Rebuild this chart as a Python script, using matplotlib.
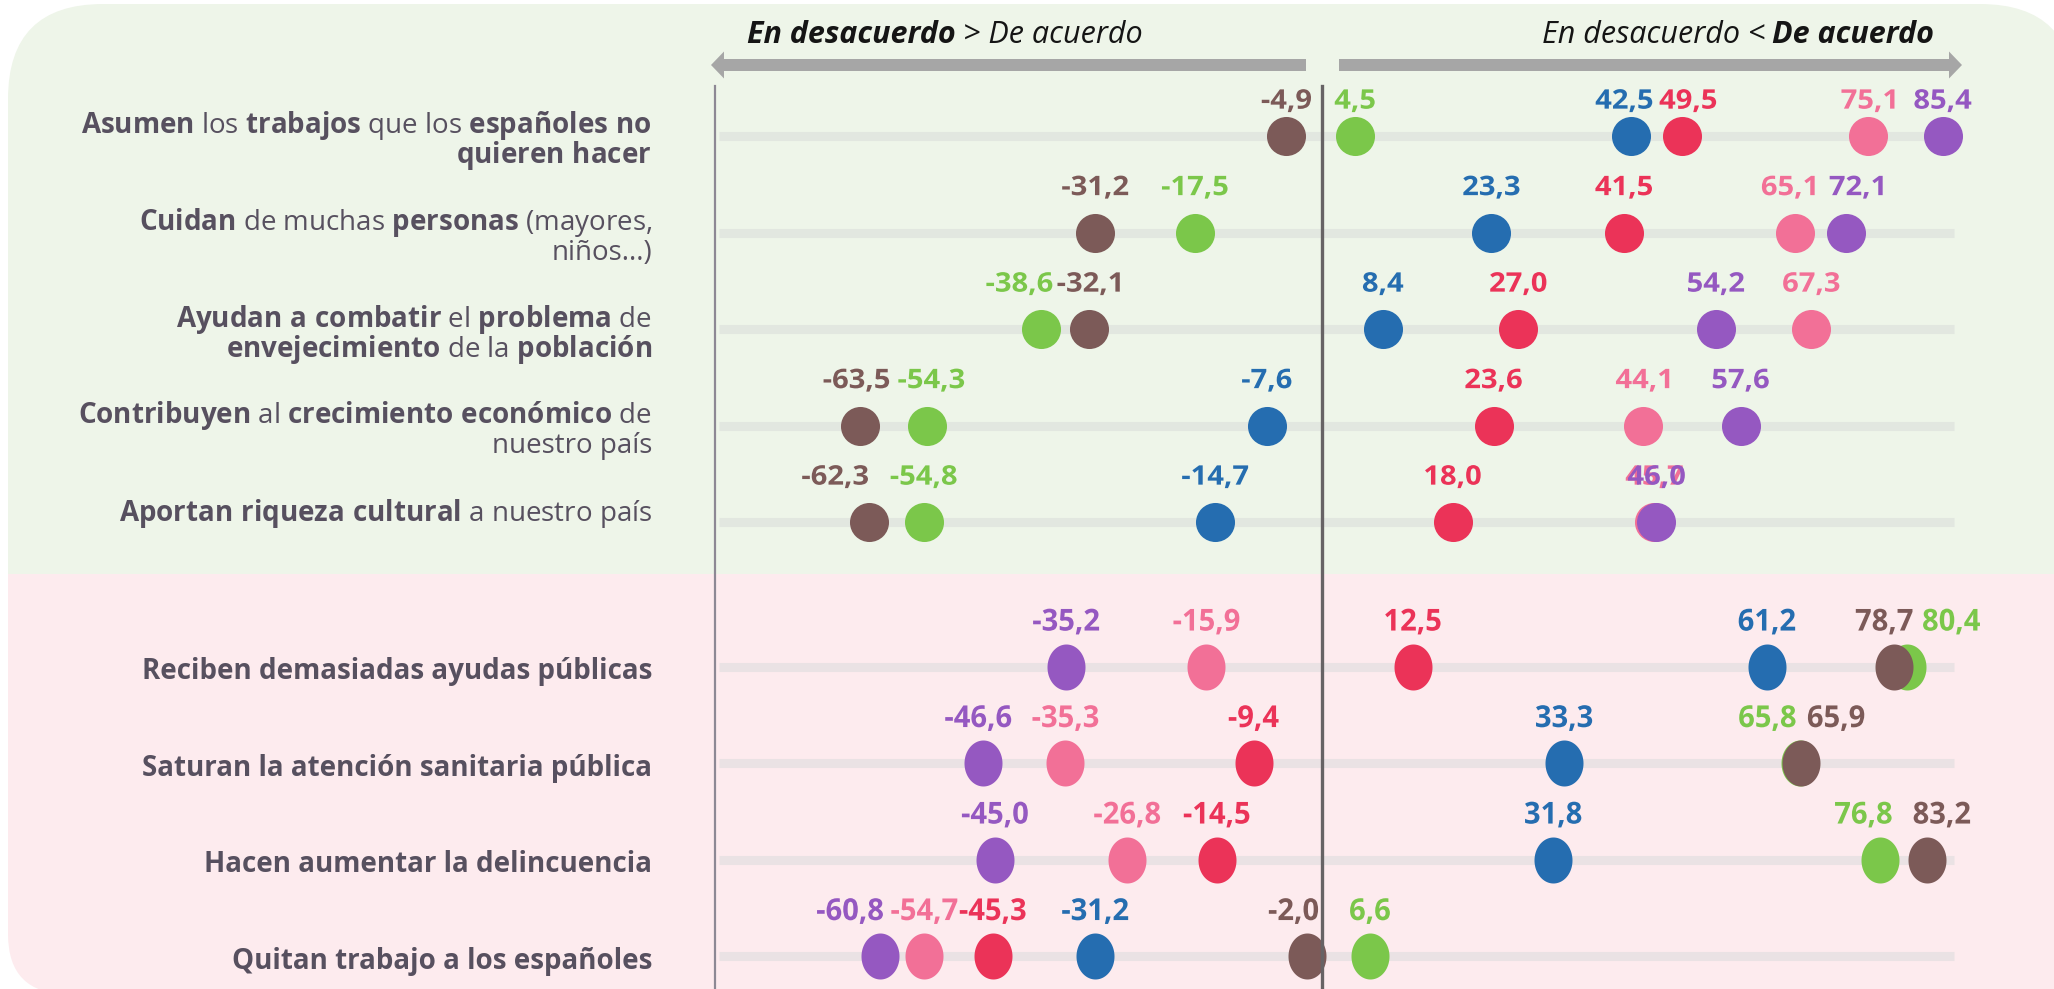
import numpy as np
import matplotlib
matplotlib.use('Agg')
import matplotlib.pyplot as plt
import matplotlib.transforms as mtransforms
from matplotlib.patches import FancyBboxPatch, Rectangle, FancyArrow, PathPatch
from matplotlib.textpath import TextPath
from matplotlib.font_manager import FontProperties

plt.rcParams['font.family'] = ['Open Sans', 'DejaVu Sans']
plt.rcParams['mathtext.fontset'] = 'custom'
plt.rcParams['mathtext.rm'] = 'Open Sans'
plt.rcParams['mathtext.bf'] = 'Open Sans:bold'
plt.rcParams['mathtext.it'] = 'Open Sans:italic'

# --- datos: una lista por serie, una entrada por afirmación ---
afirmaciones = [
    [[("Asumen", 1), (" los ", 0), ("trabajos", 1), (" que los ", 0), ("españoles no", 1)],
     [("quieren hacer", 1)]],
    [[("Cuidan", 1), (" de muchas ", 0), ("personas", 1), (" (mayores,", 0)],
     [("niños...)", 0)]],
    [[("Ayudan a combatir", 1), (" el ", 0), ("problema", 1), (" de", 0)],
     [("envejecimiento", 1), (" de la ", 0), ("población", 1)]],
    [[("Contribuyen", 1), (" al ", 0), ("crecimiento económico", 1), (" de", 0)],
     [("nuestro país", 0)]],
    [[("Aportan riqueza cultural", 1), (" a nuestro país", 0)]],
    [[("Reciben demasiadas ayudas públicas", 1)]],
    [[("Saturan la atención sanitaria pública", 1)]],
    [[("Hacen aumentar la delincuencia", 1)]],
    [[("Quitan trabajo a los españoles", 1)]],
]
grupo = [0, 0, 0, 0, 0, 1, 1, 1, 1]   # 0 = positivas, 1 = negativas

verde  = [4.5, -17.5, -38.6, -54.3, -54.8, 80.4, 65.8, 76.8, 6.6]
marron = [-4.9, -31.2, -32.1, -63.5, -62.3, 78.7, 65.9, 83.2, -2.0]
azul   = [42.5, 23.3, 8.4, -7.6, -14.7, 61.2, 33.3, 31.8, -31.2]
rojo   = [49.5, 41.5, 27.0, 23.6, 18.0, 12.5, -9.4, -14.5, -45.3]
rosa   = [75.1, 65.1, 67.3, 44.1, 45.7, -15.9, -35.3, -26.8, -54.7]
morado = [85.4, 72.1, 54.2, 57.6, 46.0, -35.2, -46.6, -45.0, -60.8]

series = {'verde': verde, 'marron': marron, 'azul': azul,
          'rojo': rojo, 'rosa': rosa, 'morado': morado}

# --- estilo ---
colores = {'verde': '#7BC74A', 'marron': '#7C5A58', 'azul': '#256DB0',
           'rojo': '#EB3358', 'rosa': '#F27097', 'morado': '#9558C1'}
TXT = '#57505F'
PX_X = 7.27          # px por punto porcentual
X0 = 1322            # px del cero
ROW_PX = 96.5
ROW0 = 136
# pequeños desplazamientos de etiquetas solapadas (px)
nudge = {(0, 'azul'): -7, (0, 'rojo'): 6, (1, 'rosa'): -7, (1, 'morado'): 10,
         (2, 'verde'): -22, (3, 'marron'): -4, (3, 'verde'): 4,
         (4, 'marron'): -34, (5, 'marron'): -10, (5, 'verde'): 45,
         (6, 'verde'): -33, (6, 'marron'): 35, (7, 'verde'): -17, (7, 'marron'): 15,
         (8, 'morado'): -30, (8, 'marron'): -14, (6, 'morado'): -5}

pos = [i + 0.5 * g for i, g in enumerate(grupo)]

fig = plt.figure(figsize=(20.54, 9.89), dpi=100)
bg = fig.add_axes([0, 0, 1, 1], zorder=0)
bg.set_xlim(0, 2054)
bg.set_ylim(989, 0)
bg.axis('off')
ax = fig.add_axes([0, 0, 1, 1], zorder=1)
ax.axis('off')
ax.set_xlim(-X0 / PX_X, (2054 - X0) / PX_X)
ax.set_ylim((989 - ROW0) / ROW_PX, -ROW0 / ROW_PX)

# fondos
bg.add_patch(FancyBboxPatch((8, 4), 2075 - 8, 700, boxstyle='round,pad=0,rounding_size=95',
                            fc='#EEF5E9', ec='none'))
bg.add_patch(FancyBboxPatch((8, 574), 2300, 420, boxstyle='round,pad=0,rounding_size=60',
                            fc='#FDEBEE', ec='none'))
bg.add_patch(Rectangle((8, 574), 2300, 120, fc='#FDEBEE', ec='none'))

# flechas y cabecera
bg.add_patch(FancyArrow(1306, 65, -595, 0, width=12, head_width=27, head_length=13,
                        length_includes_head=True, fc='#A6A6A6', ec='none'))
bg.add_patch(FancyArrow(1339, 65, 623, 0, width=12, head_width=27, head_length=13,
                        length_includes_head=True, fc='#A6A6A6', ec='none'))
hs = 22
t1 = bg.text(747, 43, "En desacuerdo", fontsize=hs, fontweight='bold', style='italic',
             color='#151515', ha='left', va='baseline')
bg.annotate("> De acuerdo", xy=(1, 0), xycoords=t1, xytext=(5, 0), textcoords='offset points',
            fontsize=hs, style='italic', color='#151515', ha='left', va='bottom')
t2 = bg.text(1934, 43, "De acuerdo", fontsize=hs, fontweight='bold', style='italic',
             color='#151515', ha='right', va='baseline')
bg.annotate("En desacuerdo <", xy=(0, 0), xycoords=t2, xytext=(-5, 0), textcoords='offset points',
            fontsize=hs, style='italic', color='#151515', ha='right', va='bottom')

# líneas verticales
ytop = 1 - 86 / 989
ax.axvline(-83.5, ymin=0, ymax=ytop, color='#8D8894', lw=1.6, zorder=2)
ax.axvline(0, ymin=0, ymax=ytop, color='#676365', lw=2.4, zorder=4)

# pistas
for p, g in zip(pos, grupo):
    ax.hlines(p, -83, 87, color='#E2E7E0' if g == 0 else '#EAE2E4', lw=6.5,
              zorder=1, capstyle='butt')

# marcador elíptico para el bloque inferior
t = np.linspace(0, 2 * np.pi, 80)
elipse = np.column_stack([0.5 * 38 / 46 * np.cos(t), 0.5 * np.sin(t)])

fp_val = FontProperties(family='Open Sans', weight='bold')
VAL_PX = 27


def etiqueta(x, y, texto, color, sx, sy, dx, dy):
    tp = TextPath((0, 0), texto, size=VAL_PX, prop=fp_val)
    ext = tp.get_extents()
    cx = (ext.x0 + ext.x1) / 2
    tr = (mtransforms.Affine2D().translate(-cx, -0.357 * VAL_PX).scale(sx, sy).translate(dx, dy)
          + mtransforms.ScaledTranslation(x, y, ax.transData))
    ax.add_patch(PathPatch(tp, transform=tr, fc=color, lw=0, zorder=5))


for nombre, vals in series.items():
    col = colores[nombre]
    for i, v in enumerate(vals):
        g = grupo[i]
        if g == 0:
            ax.scatter([v], [pos[i]], s=790, marker='o', color=col, linewidths=0, zorder=3)
            sy = 1.0
        else:
            ax.scatter([v], [pos[i]], s=(46 * 0.72) ** 2, marker=elipse, color=col,
                       linewidths=0, zorder=3)
            sy = 1.12
        txt = f"{v:.1f}".replace('.', ',')
        dy = 37 if i == 0 else 47
        etiqueta(v, pos[i], txt, col, 1.08, sy, nudge.get((i, nombre), 0), dy)


# textos de las afirmaciones
def a_math(segs):
    out = ''
    for s, b in segs:
        if b:
            out += r'$\mathbf{' + s.replace(' ', r'\ ') + '}$'
        else:
            out += s
    return out


blend = mtransforms.blended_transform_factory(bg.transData, ax.transData)
for i, lineas in enumerate(afirmaciones):
    if len(lineas) == 2:
        offs = [-10, 20]
    else:
        offs = [-8] if grupo[i] == 0 else [5]
    for lin, off in zip(lineas, offs):
        if grupo[i] == 1:
            s, w = lin[0][0], 'bold'
        else:
            s, w = a_math(lin), 'normal'
        ax.annotate(s, xy=(652, pos[i]), xycoords=blend, xytext=(0, -off * 0.72),
                    textcoords='offset points', ha='right', va='center',
                    fontsize=20, fontweight=w, color=TXT)

fig.savefig('out.png', dpi=100)
